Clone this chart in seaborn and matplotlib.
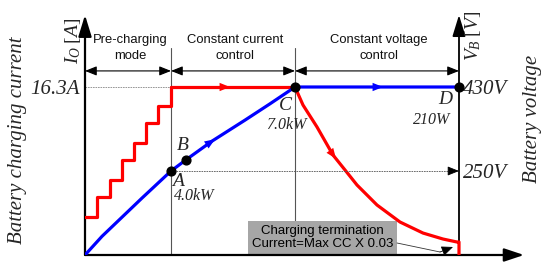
import numpy as np
import matplotlib
matplotlib.use("Agg")
import matplotlib.pyplot as plt
from matplotlib.patches import Rectangle
import seaborn as sns

# ---------------- data (arbitrary time units) ----------------
precharge_t = [0, 12, 24.5, 37, 49, 61, 73, 86]
precharge_current = [3.7, 5.6, 7.3, 9.2, 10.9, 12.8, 14.5, 16.3]
cc_t = [86, 210]
cc_current = [16.3, 16.3]
cv_t = [210, 218, 232, 248, 260, 272, 292, 315, 338, 358, 372, 374, 374]
cv_current = [16.3, 14.55, 12.42, 9.7, 8.25, 6.79, 4.85, 3.2, 2.13, 1.55, 1.26, 1.26, 0.0]
volt_t = [0, 17, 37, 57, 77, 86, 101, 127, 160, 185, 210, 374]
voltage = [70, 110, 151, 192, 232, 250, 274, 314, 359, 394, 430, 430]
point_names = ["A", "B", "C", "D"]
point_idx = [5, 6, 10, 11]
point_power = ["4.0kW", "", "7.0kW", "210W"]
current_ticks = [16.3]
current_ticklabels = ["16.3A"]
voltage_ticks = [250, 430]
voltage_ticklabels = ["250V", "430V"]
phase_labels = ["Pre-charging\nmode", "Constant current\ncontrol", "Constant voltage\ncontrol"]
note_text = "Charging termination\nCurrent=Max CC X 0.03"

sns.set_theme(style="white")
plt.rcParams["font.family"] = ["Liberation Sans", "DejaVu Sans"]
plt.rcParams["mathtext.fontset"] = "custom"
plt.rcParams["mathtext.it"] = "Liberation Serif:italic"
plt.rcParams["mathtext.rm"] = "Liberation Serif"

W, H = 550, 268
fig = plt.figure(figsize=(5.5, 2.68), dpi=100)
fig.patch.set_facecolor("white")
X0, Y0, AW, AH = 85, 255, 439, 240
ax = fig.add_axes([X0 / W, (H - Y0) / H, AW / W, AH / H])
ax.patch.set_alpha(0)
ax2 = ax.twinx()
ax2.patch.set_alpha(0)

t_end = cv_t[-1]
ax.set_xlim(0, AW)
ax.set_ylim(0, 16.3 * 240 / 168)
ax2.set_ylim(70, 70 + 240 * 180 / 84)

for a in (ax, ax2):
    for s in a.spines.values():
        s.set_visible(False)
    a.set_xticks([])
    a.set_xlabel("")
    a.set_ylabel("")

serif_it = dict(family="Liberation Serif", style="italic")

ax.set_yticks(current_ticks)
ax.set_yticklabels(current_ticklabels, fontsize=15, **serif_it)
ax.tick_params(axis="y", length=0, pad=4)
ax2.spines["right"].set_position(("data", t_end))
ax2.set_yticks(voltage_ticks)
ax2.set_yticklabels(voltage_ticklabels, fontsize=15, **serif_it)
ax2.tick_params(axis="y", length=0, pad=3)

xt = ax.get_xaxis_transform()

# axes with arrows
ax.annotate("", xy=(0, 1), xytext=(0, 0), xycoords="axes fraction",
            arrowprops=dict(arrowstyle="-|>,head_length=1.3,head_width=0.4", mutation_scale=10,
                            lw=1.6, color="black", shrinkA=0, shrinkB=0))
ax.annotate("", xy=(1, 0), xytext=(0, 0), xycoords="axes fraction",
            arrowprops=dict(arrowstyle="-|>,head_length=1.2,head_width=0.4", mutation_scale=10,
                            lw=1.6, color="black", shrinkA=0, shrinkB=0))
ax.annotate("", xy=(t_end, 1), xytext=(t_end, 0), xycoords=xt,
            arrowprops=dict(arrowstyle="-|>,head_length=1.3,head_width=0.4", mutation_scale=10,
                            lw=1.3, color="black", shrinkA=0, shrinkB=0))

# phase separators and double arrows
bounds = [precharge_t[0], cc_t[0], cv_t[0], t_end]
for b in bounds[1:3]:
    ax.plot([b, b], [0, 0.8625], transform=xt, color="#555555", lw=0.8, zorder=1)
for i in range(3):
    ax.annotate("", xy=(bounds[i + 1], 0.767), xytext=(bounds[i], 0.767), xycoords=xt,
                arrowprops=dict(arrowstyle="<|-|>,head_length=0.7,head_width=0.28", mutation_scale=10,
                                lw=0.8, color="black", shrinkA=0, shrinkB=0))
phase_x = [130, 235, 379]
for lab, px in zip(phase_labels, phase_x):
    fig.text(px / W, 1 - 48 / H, lab, ha="center", va="center", fontsize=9.4,
             linespacing=1.4, color="#111111")

# guide lines
ax.plot([0, cc_t[0]], [16.3, 16.3], color="#888888", lw=0.6, ls=(0, (2, 1)), zorder=1)
ax2.plot([volt_t[5], t_end - 6], [voltage[5], voltage[5]], color="#555555", lw=0.6,
         ls=(0, (2, 1)), zorder=1)
ax2.annotate("", xy=(t_end, voltage[5]), xytext=(t_end - 8, voltage[5]),
             arrowprops=dict(arrowstyle="-|>,head_length=0.7,head_width=0.28", mutation_scale=10,
                             lw=0.6, color="black", shrinkA=0, shrinkB=0))

# curves
red = "#ff0000"
blue = "#0000ff"
sns.lineplot(x=precharge_t, y=precharge_current, ax=ax, color=red, lw=2.3,
             drawstyle="steps-post", estimator=None, sort=False, zorder=3)
sns.lineplot(x=cc_t, y=cc_current, ax=ax, color=red, lw=2.3, estimator=None, sort=False, zorder=3)
sns.lineplot(x=cv_t, y=cv_current, ax=ax, color=red, lw=2.3, estimator=None, sort=False, zorder=3)
sns.lineplot(x=volt_t, y=voltage, ax=ax2, color=blue, lw=2.3, estimator=None, sort=False, zorder=3)


def head(a, tx, ty, t, color):
    y1 = np.interp(t, tx, ty)
    y0 = np.interp(t - 4, tx, ty)
    a.annotate("", xy=(t, y1), xytext=(t - 4, y0),
               arrowprops=dict(arrowstyle="-|>,head_length=0.75,head_width=0.3", mutation_scale=10,
                               lw=0, color=color, shrinkA=0, shrinkB=0), zorder=4)


head(ax, cc_t, cc_current, 145, red)
head(ax, cv_t[:11], cv_current[:11], 251, red)
head(ax2, volt_t, voltage, 130, blue)
head(ax2, volt_t, voltage, 298, blue)

# key points
px_t = [volt_t[i] for i in point_idx]
px_v = [voltage[i] for i in point_idx]
ax2.scatter(px_t, px_v, s=40, color="black", zorder=6)

name_pos = [(178, 181), (183, 146), (285, 106), (445, 100)]
power_pos = [(194, 196), None, (286, 125), (432, 120)]
for n, p, npos, ppos in zip(point_names, point_power, name_pos, power_pos):
    fig.text(npos[0] / W, 1 - npos[1] / H, n, ha="center", va="center", fontsize=14, **serif_it)
    if ppos is not None:
        fig.text(ppos[0] / W, 1 - ppos[1] / H, p, ha="center", va="center", fontsize=11.5, **serif_it)

# axis titles
fig.text(18 / W, 1 - 140 / H, "Battery charging current", rotation=90, ha="center", va="center",
         fontsize=15, **serif_it)
fig.text(532 / W, 1 - 119 / H, "Battery voltage", rotation=90, ha="center", va="center",
         fontsize=15, **serif_it)
fig.text(73 / W, 1 - 41 / H, r"$I_O\;[A]$", rotation=90, ha="center", va="center", fontsize=14)
fig.text(473 / W, 1 - 36 / H, r"$V_B\;[V]$", rotation=90, ha="center", va="center", fontsize=14)


# termination note
def P(px, py):
    return ((px - X0) / AW, (Y0 - py) / AH)


bx0, by0 = P(248, 254)
bx1, by1 = P(397, 221)
ax.add_patch(Rectangle((bx0, by0), bx1 - bx0, by1 - by0, transform=ax.transAxes,
                       facecolor="#a6a6a6", edgecolor="none", zorder=2))
ax.text((bx0 + bx1) / 2, (by0 + by1) / 2, note_text, transform=ax.transAxes, ha="center",
        va="center", fontsize=9.5, linespacing=1.05, color="black", zorder=3)
p1, p2, p3 = P(397, 243), P(440, 252), P(453, 247)
ax.plot([p1[0], p2[0]], [p1[1], p2[1]], transform=ax.transAxes, color="#333333", lw=0.6, zorder=3)
ax.annotate("", xy=p3, xytext=p2, xycoords="axes fraction",
            arrowprops=dict(arrowstyle="-|>,head_length=0.7,head_width=0.3", mutation_scale=10,
                            lw=0.6, color="black", shrinkA=0, shrinkB=0))

fig.savefig("out.png", dpi=100, facecolor="white")
